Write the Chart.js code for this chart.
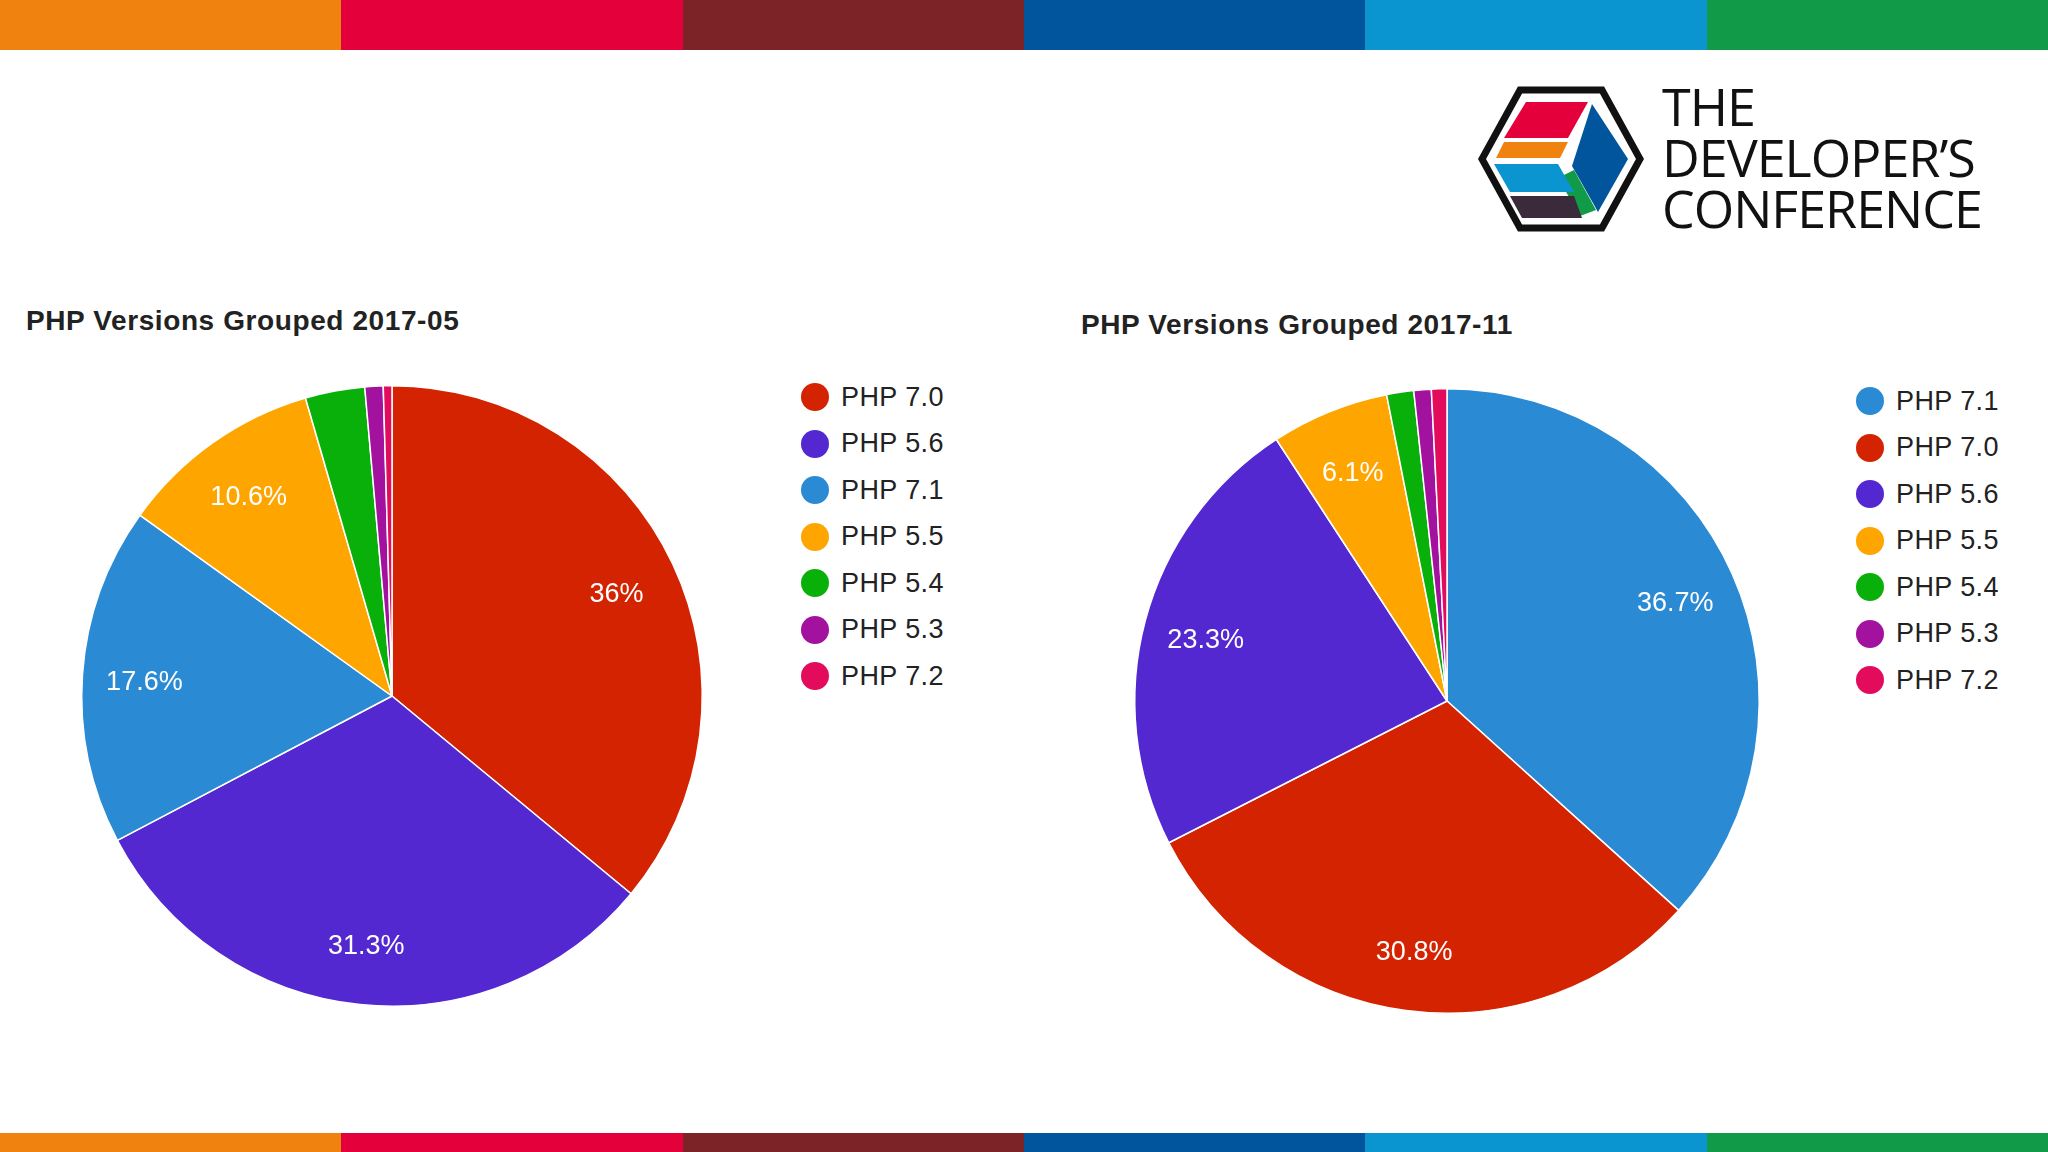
<!DOCTYPE html>
<html><head><meta charset="utf-8">
<script src="https://cdn.jsdelivr.net/npm/chart.js@4/dist/chart.umd.min.js"></script>
<style>
body{margin:0;width:2048px;height:1152px;position:relative;background:#fff;font-family:Arial,"Liberation Sans",sans-serif;overflow:hidden}
.stripe{position:absolute;left:0;width:2048px;display:flex}
.stripe div{flex:1}
.title{position:absolute;font-weight:bold;font-size:28px;letter-spacing:0.6px;color:#222}
.legend{position:absolute;font-size:27px;letter-spacing:0.4px;color:#222}
.legend div{height:46.5px;display:flex;align-items:center}
.legend span{display:inline-block;width:28px;height:28px;border-radius:50%;margin-right:12px}
canvas{position:absolute}
.logo{position:absolute;left:1662px;top:80px;font-family:"Open Sans",sans-serif;font-size:52px;line-height:51px;color:#111;letter-spacing:-1px}
</style></head><body>
<div class="stripe" style="top:0;height:50px" id="s1"></div>
<div class="stripe" style="top:1133px;height:19px" id="s2"></div>
<svg style="position:absolute;left:1478px;top:86px" width="166" height="146" viewBox="0 0 166 146">
<polygon points="42,4 124,4 162,73 124,142 42,142 4,73" fill="#fff" stroke="#111" stroke-width="7"/>
<polygon points="48,16 110,16 90,52 26,52" fill="#e4003a"/>
<polygon points="26,56 90,56 82,72 18,72" fill="#f0820f"/>
<polygon points="114,18 150,73 120,126 94,80" fill="#00559c"/>
<polygon points="96,84 118,124 102,130 80,92" fill="#119a48"/>
<polygon points="16,78 80,78 96,106 32,106" fill="#0b95d0"/>
<polygon points="32,110 96,110 104,132 44,132" fill="#3b2a3a"/>
</svg>
<div class="logo">THE<br>DEVELOPER’S<br>CONFERENCE</div>
<div class="title" style="left:26px;top:305px">PHP Versions Grouped 2017-05</div>
<div class="title" style="left:1081px;top:309px">PHP Versions Grouped 2017-11</div>
<canvas id="c1" width="640" height="640" style="left:72px;top:376px"></canvas>
<canvas id="c2" width="640" height="640" style="left:1127px;top:381px"></canvas>
<div class="legend" id="l1" style="left:801px;top:374px"></div>
<div class="legend" id="l2" style="left:1856px;top:378px"></div>
<script>
const stripeColors = ['#f0820f','#e4003a','#7b2326','#00559c','#0b95d0','#119a48']
const labelsMay = ['PHP 7.0','PHP 5.6','PHP 7.1','PHP 5.5','PHP 5.4','PHP 5.3','PHP 7.2']
const valuesMay = [36, 31.3, 17.6, 10.6, 3.1, 0.95, 0.45]
const colorsMay = ['#d42300','#5428d0','#2a8bd4','#ffa500','#0ab00a','#a3129f','#e30c5c']
const labelsNov = ['PHP 7.1','PHP 7.0','PHP 5.6','PHP 5.5','PHP 5.4','PHP 5.3','PHP 7.2']
const valuesNov = [36.7, 30.8, 23.3, 6.1, 1.4, 0.9, 0.8]
const colorsNov = ['#2a8bd4','#d42300','#5428d0','#ffa500','#0ab00a','#a3129f','#e30c5c']

for (const id of ['s1','s2']) {
    stripeColors.forEach(c => {
        const d = document.createElement('div'); d.style.background = c
        document.getElementById(id).appendChild(d)
    })
}

const pctLabels = {
    id: 'pctLabels',
    afterDatasetsDraw(chart) {
        const ctx = chart.ctx
        const data = chart.data.datasets[0].data
        const total = data.reduce((a, b) => a + b, 0)
        chart.getDatasetMeta(0).data.forEach((arc, i) => {
            const pct = data[i] / total * 100
            if (pct < 5) return
            const mid = (arc.startAngle + arc.endAngle) / 2
            const r = arc.outerRadius * 0.8
            ctx.save()
            ctx.fillStyle = '#fff'
            ctx.font = '27px Arial, "Liberation Sans"'
            ctx.textAlign = 'center'
            ctx.textBaseline = 'middle'
            ctx.fillText((Math.round(pct * 10) / 10) + '%', arc.x + Math.cos(mid) * r, arc.y + Math.sin(mid) * r + 4)
            ctx.restore()
        })
    }
}

function makePie(canvasId, legendId, labels, values, colors, pad) {
    new Chart(document.getElementById(canvasId), {
        type: 'pie',
        data: { labels: labels, datasets: [{ data: values, backgroundColor: colors, borderColor: '#fff', borderWidth: 1.5 }] },
        options: {
            responsive: false, animation: false,
            layout: { padding: pad },
            plugins: { legend: { display: false }, tooltip: { enabled: false } }
        },
        plugins: [pctLabels]
    })
    const lg = document.getElementById(legendId)
    labels.forEach((l, i) => {
        lg.insertAdjacentHTML('beforeend', `<div><span style="background:${colors[i]}"></span>${l}</div>`)
    })
}
makePie('c1', 'l1', labelsMay, valuesMay, colorsMay, 9)
makePie('c2', 'l2', labelsNov, valuesNov, colorsNov, 7)
</script>
</body></html>
